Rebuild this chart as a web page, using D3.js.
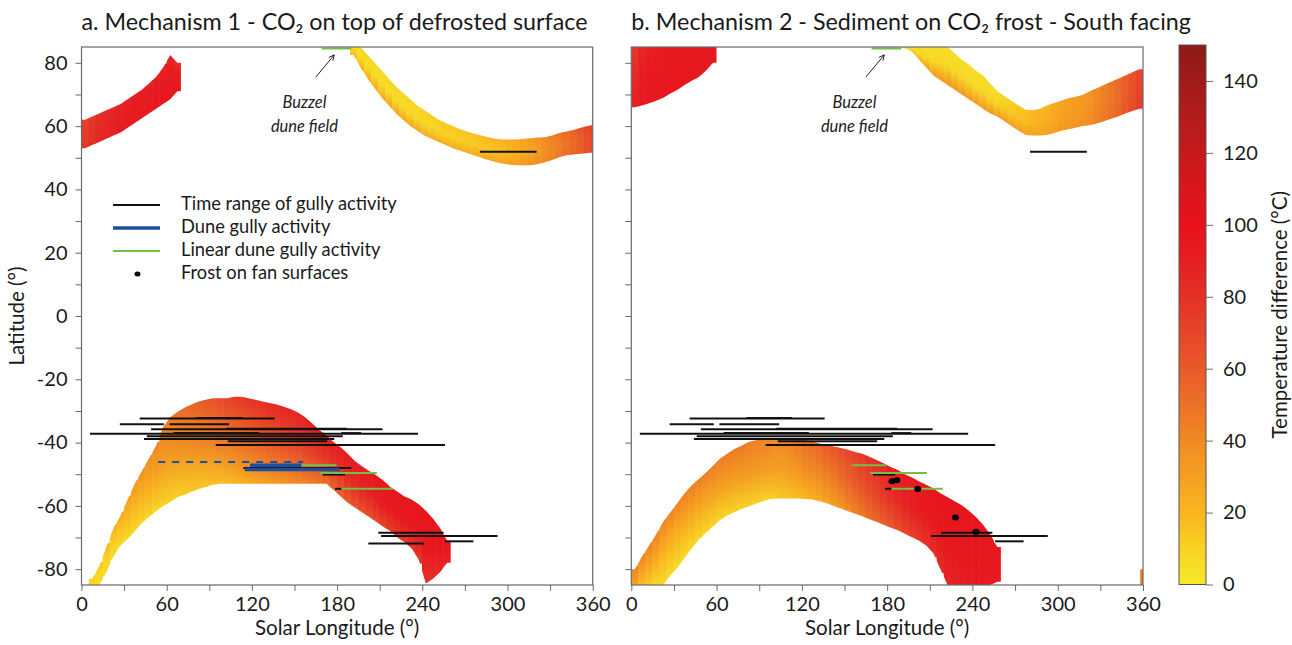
<!DOCTYPE html>
<html>
<head>
<meta charset="utf-8">
<script src="https://cdn.jsdelivr.net/npm/d3@7"></script>
<style>
  body { margin: 0; background: #fff; }
  svg text { font-family: Lato, "Open Sans", sans-serif; fill: #1a1a1a; }
</style>
</head>
<body>
<svg id="chart" width="1292" height="645"></svg>
<script>
// ---- data ----
// band columns: [Ls start, lat top, lat bottom, temp at top, temp in middle, temp at bottom]
const aSouth = [
  [5, -83, -85, 12, 8, 5], [10, -79, -85, 15, 8, 5], [15, -73, -81, 20, 10, 5], [20, -67, -76, 25, 12, 5],
  [25, -63, -72.5, 28, 15, 5], [30, -58, -70.5, 32, 18, 5], [35, -53, -68, 35, 20, 6], [40, -49, -65.5, 38, 22, 6],
  [45, -45, -63.5, 40, 25, 6], [50, -41, -61.7, 42, 27, 7], [55, -35, -60, 45, 30, 8], [60, -32, -58.8, 48, 32, 8],
  [65, -30.3, -57.3, 52, 34, 9], [70, -29, -56.5, 55, 36, 10], [75, -28, -55.5, 58, 38, 11], [80, -27, -54.7, 60, 40, 12],
  [85, -26.5, -54, 63, 42, 13], [90, -26, -53.3, 66, 44, 14], [95, -26, -53, 70, 46, 15], [100, -26, -53, 73, 48, 16],
  [105, -25.5, -53, 76, 50, 18], [110, -25.5, -53, 78, 52, 20], [115, -26, -53, 80, 54, 22], [120, -26.5, -53, 82, 56, 24],
  [125, -27, -53, 84, 58, 26], [130, -27.5, -53, 86, 60, 28], [135, -28, -53, 88, 62, 30], [140, -28.7, -53, 89, 64, 32],
  [145, -29.5, -53, 90, 66, 35], [150, -30.5, -53, 91, 68, 38], [155, -32, -53, 92, 70, 40], [160, -34, -53, 93, 72, 42],
  [165, -36, -53, 93, 74, 45], [170, -37.7, -53, 94, 76, 48], [175, -39.8, -55, 94, 78, 50], [180, -41.5, -57, 95, 80, 52],
  [185, -43.5, -59, 95, 82, 55], [190, -45.8, -60.5, 95, 85, 58], [195, -47.5, -62, 96, 87, 60], [200, -49, -63.5, 96, 88, 62],
  [205, -50.3, -65, 96, 90, 65], [210, -52, -66.6, 96, 92, 68], [215, -54, -68, 96, 93, 70], [220, -55.5, -70, 97, 94, 72],
  [225, -57, -71.5, 97, 95, 74], [230, -58, -73.5, 97, 95, 75], [235, -59.5, -77, 97, 96, 76], [240, -61.5, -84.5, 97, 96, 78],
  [245, -64, -83, 97, 96, 80], [250, -67, -81, 97, 96, 82], [255, -71, -78, 97, 96, 85]
];
const aNorthLeft = [
  [0, 62, 53, 70, 75, 78], [5, 63, 54, 75, 80, 82], [10, 64, 55, 80, 84, 86], [15, 65, 56, 82, 86, 88],
  [20, 66, 57, 84, 88, 90], [25, 67, 58, 86, 90, 92], [30, 68.5, 59.5, 88, 92, 93], [35, 70, 61, 90, 93, 94],
  [40, 71.5, 62.5, 90, 94, 95], [45, 73.5, 64, 90, 94, 95], [50, 75.5, 65.5, 90, 95, 96], [55, 78.5, 67, 88, 95, 96],
  [60, 82.5, 68.5, 85, 95, 96], [65, 80, 71, 80, 95, 96]
];
const aNorthRight = [
  [189, 85, 82.5, 12, 10, 25], [194, 85, 78.5, 8, 6, 28], [199, 82.5, 75, 8, 6, 30], [204, 80, 72, 8, 6, 32],
  [209, 77.5, 69, 8, 6, 32], [214, 75, 66.5, 8, 6, 34], [219, 72.5, 64, 10, 6, 34], [224, 70.5, 62, 10, 6, 34],
  [229, 68.5, 60, 10, 7, 34], [234, 66.5, 58.5, 10, 7, 34], [239, 65, 57, 12, 8, 32], [244, 63.5, 56, 12, 8, 32],
  [249, 62, 55, 14, 9, 32], [254, 61, 54, 14, 10, 32], [259, 60, 53, 16, 10, 32], [264, 59, 52.3, 16, 11, 32],
  [269, 58.3, 51.5, 18, 12, 32], [274, 57.6, 50.8, 18, 13, 32], [279, 57, 50, 20, 14, 32], [284, 56.5, 49.3, 20, 15, 32],
  [289, 56, 48.7, 22, 16, 32], [294, 55.8, 48.2, 24, 18, 33], [299, 55.8, 47.8, 26, 20, 34], [304, 55.8, 47.6, 28, 22, 35],
  [309, 56, 47.6, 30, 25, 36], [314, 56.2, 47.6, 34, 28, 38], [319, 56.4, 48, 38, 32, 40], [324, 56.5, 48.6, 42, 36, 42],
  [329, 57, 49.3, 46, 40, 44], [334, 57.8, 50.2, 50, 44, 48], [339, 58.3, 50.8, 55, 48, 52], [344, 58.8, 51, 60, 52, 56],
  [349, 59.5, 51.3, 66, 58, 60], [354, 60, 51.5, 72, 64, 66], [359, 60.5, 51.7, 76, 68, 70]
];
const bSouth = [
  [0, -80, -85, 45, 35, 25], [5, -76, -85, 45, 30, 15], [10, -72.5, -85, 45, 28, 10], [15, -69, -85, 45, 25, 6],
  [20, -65, -85, 45, 22, 5], [25, -62, -82, 45, 22, 5], [30, -59, -79.5, 45, 22, 5], [35, -56, -76.5, 45, 24, 5],
  [40, -53.5, -73.5, 46, 25, 5], [45, -51.5, -70.7, 46, 26, 5], [50, -49.5, -68.5, 47, 27, 6], [55, -47.3, -66.5, 47, 28, 6],
  [60, -45, -64.5, 48, 29, 7], [65, -43.5, -63, 48, 30, 7], [70, -42, -62, 48, 31, 8], [75, -41, -61, 48, 32, 8],
  [80, -39.8, -60.2, 47, 32, 8], [85, -39.3, -59.3, 46, 32, 8], [90, -39, -58.5, 45, 32, 8], [95, -38.7, -57.8, 44, 32, 9],
  [100, -38.7, -57.7, 42, 32, 10], [105, -38.8, -57.7, 42, 32, 12], [110, -39, -57.7, 44, 33, 14], [115, -39.1, -57.7, 48, 35, 16],
  [120, -39.3, -57.8, 52, 38, 18], [125, -39.7, -58, 55, 40, 20], [130, -40.3, -58.5, 58, 42, 22], [135, -40.8, -59.2, 62, 45, 25],
  [140, -41.2, -60, 65, 48, 28], [145, -41.7, -60.8, 68, 52, 32], [150, -42.3, -61.7, 72, 56, 36], [155, -43, -62.5, 75, 60, 40],
  [160, -43.5, -63.3, 78, 64, 44], [165, -44.5, -64.2, 82, 68, 48], [170, -45.5, -65, 85, 72, 52], [175, -46.5, -66, 88, 76, 55],
  [180, -47.7, -66.9, 90, 80, 58], [185, -48.7, -67.7, 92, 84, 62], [190, -50, -68.8, 94, 88, 66], [195, -51, -69.9, 95, 90, 70],
  [200, -52.3, -71, 96, 92, 74], [205, -53.3, -72.5, 96, 94, 78], [210, -54.5, -75, 97, 95, 80], [215, -56, -80, 97, 96, 82],
  [220, -57.3, -85, 97, 96, 85], [225, -58.5, -85, 97, 96, 88], [230, -59.8, -85, 97, 96, 90], [235, -61.5, -85, 97, 96, 92],
  [240, -63.5, -85, 97, 96, 94], [245, -66, -85, 97, 96, 95], [250, -69, -85, 97, 96, 95], [255, -73, -84, 97, 96, 95]
];
const bNorthLeft = [
  [0, 85, 66, 75, 85, 90], [5, 85, 66.5, 85, 92, 94], [10, 85, 67.2, 90, 95, 96], [15, 85, 68, 92, 95, 96],
  [20, 85, 69, 93, 95, 96], [25, 85, 70.3, 94, 96, 96], [30, 85, 71.5, 94, 96, 96], [35, 85, 73, 95, 96, 96],
  [40, 85, 74.3, 95, 96, 96], [45, 85, 75.5, 95, 96, 96], [50, 85, 77.5, 95, 96, 96], [55, 85, 80, 95, 96, 96]
];
const bNorthRight = [
  [191, 85, 84.5, 8, 10, 20], [195, 85, 83.5, 6, 8, 30], [200, 85, 81, 5, 8, 35], [205, 85, 78.5, 5, 8, 38],
  [210, 85, 76, 5, 8, 40], [215, 85, 74.5, 5, 8, 40], [220, 85, 73, 5, 8, 40], [225, 83, 71.5, 5, 8, 40],
  [230, 81, 70, 5, 8, 40], [235, 79.5, 68.5, 5, 8, 40], [240, 77.5, 67, 5, 8, 40], [245, 76, 65.5, 5, 8, 40],
  [250, 73.5, 64, 5, 9, 40], [255, 71, 63, 6, 10, 40], [260, 69.5, 61.5, 8, 12, 40], [265, 68, 60, 10, 14, 38],
  [270, 66.5, 58.5, 12, 16, 36], [275, 65.2, 57.2, 15, 18, 34], [280, 65, 57, 18, 20, 32], [285, 65.5, 57, 20, 22, 32],
  [290, 66.5, 57.2, 22, 24, 32], [295, 67.3, 57.8, 25, 26, 32], [300, 68, 58.5, 28, 28, 34], [305, 68.8, 59, 30, 30, 35],
  [310, 69.3, 59.5, 32, 32, 36], [315, 69.8, 60, 34, 34, 38], [320, 71, 60.3, 36, 36, 40], [325, 72, 60.8, 40, 40, 44],
  [330, 73, 61.5, 44, 44, 48], [335, 74, 62.3, 48, 48, 52], [340, 75, 63, 52, 52, 56], [345, 76, 64, 58, 58, 62],
  [350, 77, 64.8, 64, 64, 68], [355, 78, 65.5, 70, 70, 74]
];
const bCorner = [[358, -80, -85, 45, 45, 45]];

// time ranges of gully activity: [Ls start, Ls end, lat]
const gullyRanges = [
  [41, 136, -32.4], [81, 113, -32.2], [27, 58, -34.2], [62, 104, -34.2], [49, 212, -35.8], [102, 187, -35.6],
  [6, 237, -37.2], [65, 125, -37.0], [183, 197, -37.0], [46, 184, -38], [44, 178, -38.9], [103, 173, -39.6],
  [94.5, 256, -40.8], [170, 185.6, -50.1], [178.5, 183, -54.6], [280.5, 320.5, 51.9]
];
const gullyRangesA = [[114, 190, -48], [209, 255, -68.5], [211, 293, -69.5], [256, 276, -71.2], [202, 241, -71.9]];
const gullyRangesB = [[218, 254, -68.5], [211, 293, -69.5], [256, 276, -71.2]];
const duneGully = [[118.7, 155, -47.2], [115, 182, -48.5]];
const duneGullyDashed = [[54, 156, -46.1]];
const linearDuneGully = [[155, 179.7, -47.2], [168, 208, -49.6], [183.2, 219.2, -54.6], [169, 190, 84.5]];
const frostOnFans = [[183.5, -52.2], [186.8, -51.9], [201.5, -54.7], [228, -63.7], [242.5, -68.2]];

const buzzelText = ["Buzzel", "dune field"];
const buzzelTextPos = [[157, 67.2], [157, 59.6]];
const buzzelArrow = [[165, 75.5], [178, 82.5]];

const legendLabels = ["Time range of gully activity", "Dune gully activity", "Linear dune gully activity", "Frost on fan surfaces"];

const cbValues = [0, 10, 20, 30, 40, 50, 60, 70, 80, 90, 100, 110, 120, 130, 140, 150];
const cbColors = ["#f4eb2b", "#f8d224", "#fab61f", "#f5a021", "#f08a24", "#ec7127", "#e85a2a", "#e6452a",
                  "#e43127", "#e51f22", "#e8121b", "#d9161c", "#c61a1c", "#b31b1b", "#a01b1a", "#8e1a18"];
const cbTicks = [0, 20, 40, 60, 80, 100, 120, 140];

const titleA = "a. Mechanism 1 - CO\u2082 on top of defrosted surface";
const titleB = "b. Mechanism 2 - Sediment on CO\u2082 frost - South facing";

// ---- drawing ----
const svg = d3.select("#chart");
const defs = svg.append("defs");
const col = { black: "#111", blue: "#1f4e9e", green: "#74c043", axis: "#6a6a6a" };

const yScale = d3.scaleLinear().domain([-85, 85]).range([585, 47]);
const tempColor = d3.scaleLinear().domain(cbValues).range(cbColors);
let gid = 0;

const panels = [
  { key: "a", title: titleA, range: [81.5, 592.7], yLabels: true, legend: true,
    bands: [aSouth, aNorthLeft, aNorthRight], step: [5, 5, 5],
    black: gullyRanges.concat(gullyRangesA), blue: duneGully, dashed: duneGullyDashed, frost: [] },
  { key: "b", title: titleB, range: [631.3, 1143], yLabels: false, legend: false,
    bands: [bSouth, bNorthLeft, bNorthRight, bCorner], step: [5, 5, 5, 2],
    black: gullyRanges.concat(gullyRangesB), blue: [], dashed: [], frost: frostOnFans }
];

panels.forEach(p => {
  const x = d3.scaleLinear().domain([0, 360]).range(p.range);
  const g = svg.append("g");
  const clipId = "clip-" + p.key;
  defs.append("clipPath").attr("id", clipId).append("rect")
    .attr("x", p.range[0]).attr("y", yScale(85))
    .attr("width", p.range[1] - p.range[0]).attr("height", yScale(-85) - yScale(85));
  const plot = g.append("g").attr("clip-path", "url(#" + clipId + ")");

  // heat bands: one column per Ls step with a vertical gradient,
  // clipped to the outline running through the column centres
  p.bands.forEach((rows, bi) => {
    const step = p.step[bi];
    rows.forEach(r => {
      const id = "gr" + (gid++);
      const lg = defs.append("linearGradient").attr("id", id)
        .attr("x1", 0).attr("y1", 0).attr("x2", 0).attr("y2", 1);
      lg.append("stop").attr("offset", 0).attr("stop-color", tempColor(r[3]));
      lg.append("stop").attr("offset", 0.5).attr("stop-color", tempColor(r[4]));
      lg.append("stop").attr("offset", 1).attr("stop-color", tempColor(r[5]));
      r.grad = id;
    });
    const outline = [[rows[0][0], rows[0][1], rows[0][2]]]
      .concat(rows.map(r => [r[0] + step / 2, r[1], r[2]]))
      .concat([[rows[rows.length - 1][0] + step, rows[rows.length - 1][1], rows[rows.length - 1][2]]]);
    const bandClip = "band-" + p.key + bi;
    defs.append("clipPath").attr("id", bandClip).append("path")
      .attr("d", d3.area().x(d => x(d[0])).y0(d => yScale(d[2])).y1(d => yScale(d[1]))(outline));
    plot.append("g").attr("clip-path", "url(#" + bandClip + ")")
      .selectAll("rect").data(rows).join("rect")
      .attr("x", d => x(d[0]) - 0.3)
      .attr("width", d => x(d[0] + step) - x(d[0]) + 0.6)
      .attr("y", d => yScale(d[1]) - 4)
      .attr("height", d => yScale(d[2]) - yScale(d[1]) + 8)
      .attr("fill", d => "url(#" + d.grad + ")");
  });

  const seg = (data, color, w, dash) => plot.append("g").selectAll("line").data(data).join("line")
    .attr("x1", d => x(d[0])).attr("x2", d => x(d[1]))
    .attr("y1", d => yScale(d[2])).attr("y2", d => yScale(d[2]))
    .attr("stroke", color).attr("stroke-width", w)
    .attr("stroke-dasharray", dash || null);

  seg(p.black, col.black, 2);
  seg(p.dashed, col.blue, 2, "7,7");
  seg(p.blue, col.blue, 3.5);
  seg(linearDuneGully, col.green, 2);

  plot.append("g").selectAll("ellipse").data(p.frost).join("ellipse")
    .attr("cx", d => x(d[0])).attr("cy", d => yScale(d[1]))
    .attr("rx", 3.5).attr("ry", 3).attr("fill", "#000");

  // Buzzel annotation
  g.append("g").selectAll("text").data(buzzelText).join("text")
    .attr("x", (d, i) => x(buzzelTextPos[i][0])).attr("y", (d, i) => yScale(buzzelTextPos[i][1]))
    .attr("text-anchor", "middle").attr("dominant-baseline", "middle")
    .attr("font-style", "italic").attr("font-size", 16.5).style("fill", "#222")
    .text(d => d);
  const ax0 = x(buzzelArrow[0][0]), ay0 = yScale(buzzelArrow[0][1]);
  const ax1 = x(buzzelArrow[1][0]), ay1 = yScale(buzzelArrow[1][1]);
  const ang = Math.atan2(ay1 - ay0, ax1 - ax0);
  g.append("line").attr("x1", ax0).attr("y1", ay0).attr("x2", ax1).attr("y2", ay1)
    .attr("stroke", "#222").attr("stroke-width", 1);
  g.append("path")
    .attr("d", d3.line()([
      [ax1 - 6 * Math.cos(ang - 0.45), ay1 - 6 * Math.sin(ang - 0.45)],
      [ax1, ay1],
      [ax1 - 6 * Math.cos(ang + 0.45), ay1 - 6 * Math.sin(ang + 0.45)]
    ]))
    .attr("fill", "none").attr("stroke", "#222").attr("stroke-width", 1);

  // frame
  g.append("rect").attr("x", p.range[0]).attr("y", yScale(85))
    .attr("width", p.range[1] - p.range[0]).attr("height", yScale(-85) - yScale(85))
    .attr("fill", "none").attr("stroke", col.axis).attr("stroke-width", 1.2);

  // axes
  const yAx = g.append("g").attr("transform", "translate(" + p.range[0] + ",0)")
    .call(d3.axisLeft(yScale).tickValues(d3.range(-80, 81, 10)).tickSize(6).tickPadding(8)
      .tickFormat(d => (p.yLabels && d % 20 === 0) ? String(d) : ""));
  const xAx = g.append("g").attr("transform", "translate(0," + yScale(-85) + ")")
    .call(d3.axisBottom(x).tickValues(d3.range(0, 361, 30)).tickSize(6).tickPadding(6)
      .tickFormat(d => d % 60 === 0 ? String(d) : ""));
  [yAx, xAx].forEach(a => {
    a.select(".domain").remove();
    a.selectAll("line").attr("stroke", col.axis);
    a.selectAll("text").attr("font-size", 20).style("font-family", "Lato, sans-serif").style("fill", "#1a1a1a");
  });

  g.append("text").attr("x", (p.range[0] + p.range[1]) / 2).attr("y", 635)
    .attr("text-anchor", "middle").attr("font-size", 20.5).text("Solar Longitude (\u00b0)");
  g.append("text").attr("x", p.range[0]).attr("y", 30)
    .attr("font-size", 23.3).text(p.title);

  if (p.yLabels) {
    g.append("text").attr("transform", "translate(24," + yScale(0) + ") rotate(-90)")
      .attr("text-anchor", "middle").attr("font-size", 20.5).text("Latitude (\u00b0)");
  }

  if (p.legend) {
    const lg = g.append("g").attr("transform", "translate(113,205)");
    const rows = lg.selectAll("g").data(legendLabels).join("g")
      .attr("transform", (d, i) => "translate(0," + i * 23 + ")");
    rows.append("text").attr("x", 68).attr("dominant-baseline", "middle").attr("font-size", 18.3).text(d => d);
    rows.filter((d, i) => i < 3).append("line").attr("x1", 0).attr("x2", 47)
      .attr("stroke", (d, i) => [col.black, col.blue, col.green][i])
      .attr("stroke-width", (d, i) => i === 1 ? 3.5 : 2);
    rows.filter((d, i) => i === 3).append("ellipse").attr("cx", 24.5).attr("rx", 3).attr("ry", 2.5).attr("fill", "#000");
  }
});

// colour bar
const cbScale = d3.scaleLinear().domain([0, 150]).range([584.5, 45]);
const cbX = 1179, cbW = 27;
const cbGrad = defs.append("linearGradient").attr("id", "cbgrad")
  .attr("x1", 0).attr("y1", 1).attr("x2", 0).attr("y2", 0);
cbGrad.selectAll("stop").data(cbValues).join("stop")
  .attr("offset", d => d / 150).attr("stop-color", d => tempColor(d));
svg.append("rect").attr("x", cbX).attr("y", cbScale(150)).attr("width", cbW)
  .attr("height", cbScale(0) - cbScale(150)).attr("fill", "url(#cbgrad)")
  .attr("stroke", "#555").attr("stroke-width", 1);
const cbAx = svg.append("g").attr("transform", "translate(" + (cbX + cbW) + ",0)")
  .call(d3.axisRight(cbScale).tickValues(cbTicks).tickSize(7).tickPadding(10).tickFormat(d => String(d)));
cbAx.select(".domain").remove();
cbAx.selectAll("line").attr("stroke", col.axis);
cbAx.selectAll("text").attr("font-size", 20).style("font-family", "Lato, sans-serif").style("fill", "#1a1a1a");
svg.append("text").attr("transform", "translate(1282," + cbScale(75) + ") rotate(-90)")
  .attr("text-anchor", "middle").attr("dominant-baseline", "middle").attr("font-size", 20.5)
  .text("Temperature difference (\u00b0C)");
</script>
</body>
</html>
